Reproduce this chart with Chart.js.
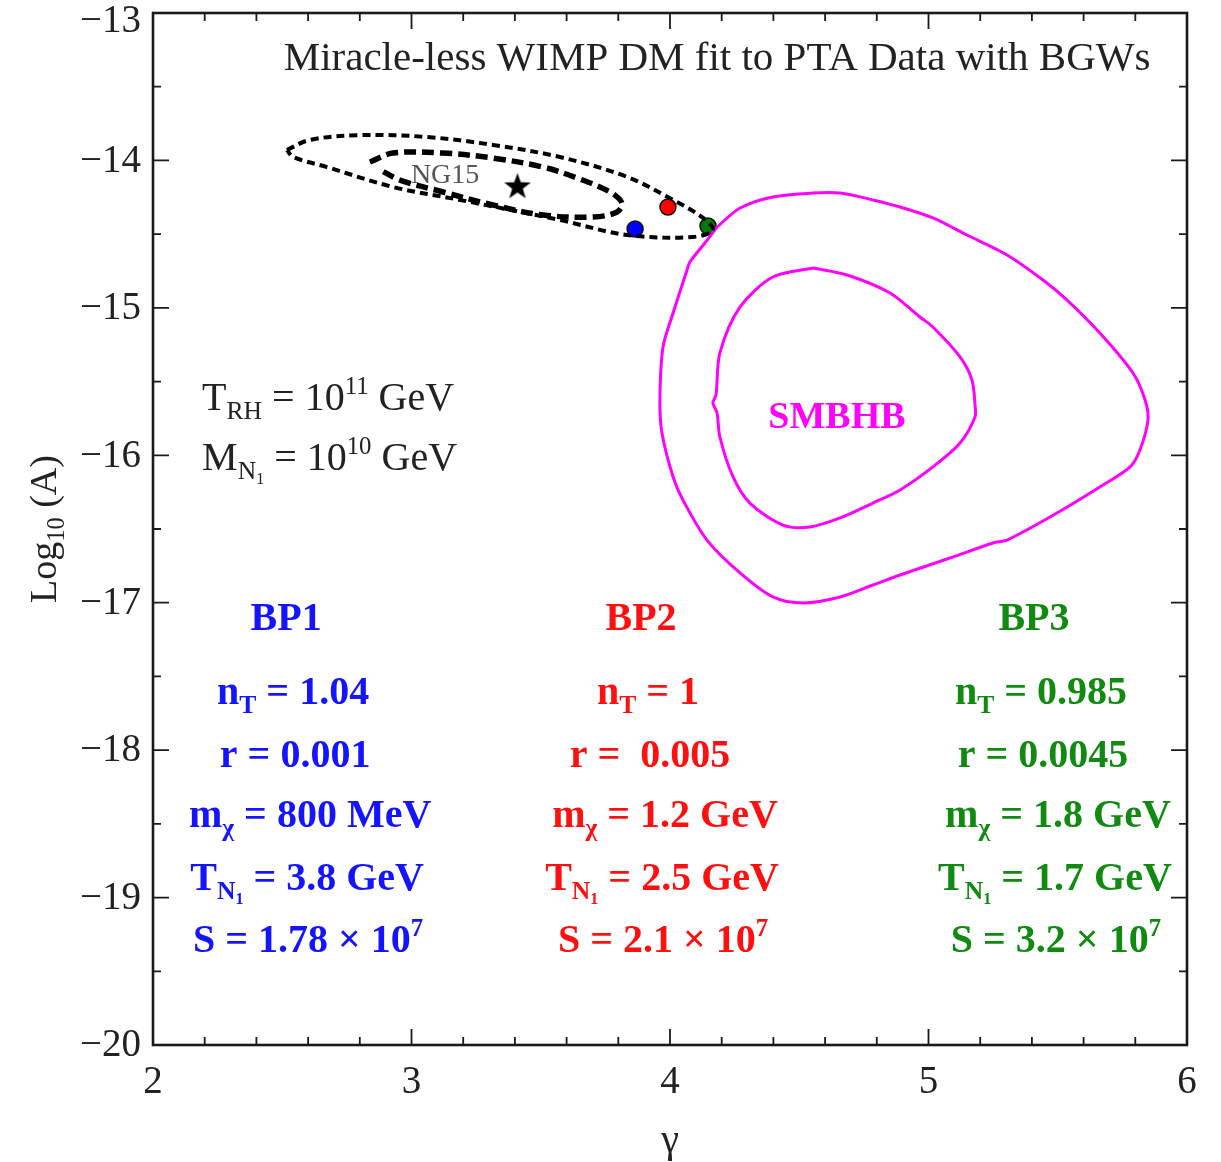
<!DOCTYPE html>
<html>
<head>
<meta charset="utf-8">
<script src="https://cdn.jsdelivr.net/npm/chart.js@4.4.1/dist/chart.umd.min.js"></script>
<style>
  html, body { margin: 0; padding: 0; background: #ffffff; }
  #wrap { width: 1221px; height: 1162px; }
</style>
</head>
<body>
<div id="wrap"><canvas id="c"></canvas></div>
<script>
// ---- axis ranges and tick values ----
const gammaTicks = [2, 3, 4, 5, 6];
const logATicks = [-20, -19, -18, -17, -16, -15, -14, -13];

// ---- NANOGrav 15-yr posterior contours (gamma, log10 A) ----
const ng15Outer = [
  [2.518, -13.929], [2.607, -13.861], [2.801, -13.828], [3.060, -13.841],
  [3.315, -13.895], [3.574, -13.977], [3.834, -14.112], [4.012, -14.268],
  [4.128, -14.390], [4.166, -14.472], [4.089, -14.519], [3.834, -14.506],
  [3.574, -14.404], [3.188, -14.268], [2.928, -14.180], [2.673, -14.045],
  [2.542, -13.977], [2.518, -13.929]
];
const ng15Inner = [
  [2.839, -14.011], [2.928, -13.950], [3.122, -13.950], [3.315, -13.984],
  [3.509, -14.045], [3.640, -14.119], [3.768, -14.214], [3.814, -14.289],
  [3.795, -14.350], [3.702, -14.384], [3.509, -14.370], [3.315, -14.302],
  [3.122, -14.214], [2.955, -14.133], [2.875, -14.060]
];
const ng15Best = [3.41, -14.17];

// ---- SMBHB population contours ----
const smbhbOuter = [
  [4.182, -14.452], [4.271, -14.323], [4.398, -14.248], [4.553, -14.221],
  [4.658, -14.221], [4.785, -14.268], [4.890, -14.316], [5.017, -14.390],
  [5.149, -14.506], [5.304, -14.641], [5.443, -14.811], [5.536, -14.947],
  [5.663, -15.171], [5.791, -15.442], [5.838, -15.625], [5.849, -15.761],
  [5.818, -15.964], [5.780, -16.079], [5.663, -16.215], [5.470, -16.419],
  [5.304, -16.575], [5.250, -16.595], [5.083, -16.697], [4.890, -16.812],
  [4.785, -16.880], [4.658, -16.961], [4.515, -17.002], [4.398, -16.961],
  [4.271, -16.798], [4.143, -16.575], [4.050, -16.303], [4.012, -16.147],
  [3.969, -15.849], [3.961, -15.625], [3.973, -15.265], [4.012, -15.035],
  [4.066, -14.743], [4.077, -14.689], [4.135, -14.560], [4.182, -14.452]
];
const smbhbInner = [
  [4.553, -14.730], [4.685, -14.777], [4.851, -14.899], [4.967, -15.062],
  [5.017, -15.130], [5.122, -15.333], [5.168, -15.489], [5.180, -15.659],
  [5.180, -15.740], [5.122, -15.917], [5.017, -16.079], [4.890, -16.235],
  [4.785, -16.324], [4.658, -16.425], [4.542, -16.486], [4.437, -16.473],
  [4.309, -16.324], [4.244, -16.147], [4.193, -15.876], [4.182, -15.713],
  [4.166, -15.645], [4.178, -15.591], [4.193, -15.306], [4.271, -14.994],
  [4.398, -14.791], [4.553, -14.730]
];

// ---- benchmark points ----
const bpNames = ['BP1', 'BP2', 'BP3'];
const bpGamma = [3.865, 3.992, 4.147];
const bpLogA = [-14.465, -14.316, -14.445];
const bpColors = ['#1414ff', '#ff1010', '#108a10'];
const bpMarker = ['#0000ff', '#ff0000', '#007a00'];
const bpNT = ['1.04', '1', '0.985'];
const bpR = ['0.001', ' 0.005', '0.0045'];
const bpMchi = ['800 MeV', '1.2 GeV', '1.8 GeV'];
const bpTN = ['3.8 GeV', '2.5 GeV', '1.7 GeV'];
const bpS = ['1.78', '2.1', '3.2'];

const FAM = '"Liberation Serif", "Times New Roman", serif';
const INK = '#222222';

const toXY = arr => arr.map(p => ({ x: p[0], y: p[1] }));
const minusFmt = v => (v < 0 ? '\u2212' + Math.abs(v) : String(v));

// filled five-point star used as the best-fit marker
function starImage(size) {
  const cv = document.createElement('canvas');
  cv.width = size; cv.height = size;
  const g = cv.getContext('2d');
  const cx = size / 2, cy = size / 2 + size * 0.05, R = size * 0.5, r = R * 0.4;
  g.beginPath();
  for (let i = 0; i < 10; i++) {
    const rad = i % 2 === 0 ? R : r;
    const a = -Math.PI / 2 + i * Math.PI / 5;
    const px = cx + rad * Math.cos(a), py = cy + rad * Math.sin(a);
    if (i === 0) g.moveTo(px, py); else g.lineTo(px, py);
  }
  g.closePath();
  g.fillStyle = '#000';
  g.fill();
  return cv;
}

// text with sub/superscript runs
function rich(ctx, segs, x, y, size, bold, color, align) {
  const w = bold ? 'bold ' : '';
  const spec = s => {
    if (s.sub) return { f: size * 0.64, dy: size * 0.22 };
    if (s.sup) return { f: size * 0.62, dy: -size * 0.4 };
    if (s.subsub) return { f: size * 0.4, dy: size * 0.36 };
    return { f: size, dy: 0 };
  };
  let total = 0;
  segs.forEach(s => { const p = spec(s); ctx.font = w + p.f + 'px ' + FAM; total += ctx.measureText(s.t).width; });
  let cx = align === 'center' ? x - total / 2 : (align === 'right' ? x - total : x);
  ctx.save();
  ctx.fillStyle = color;
  ctx.textAlign = 'left';
  ctx.textBaseline = 'alphabetic';
  segs.forEach(s => {
    const p = spec(s);
    ctx.font = w + p.f + 'px ' + FAM;
    ctx.fillText(s.t, cx, y + p.dy);
    cx += ctx.measureText(s.t).width;
  });
  ctx.restore();
}

const decor = {
  id: 'decor',
  afterDatasetsDraw(chart) {
    const ctx = chart.ctx, ca = chart.chartArea;
    const xs = chart.scales.x, ys = chart.scales.y;
    const X = v => xs.getPixelForValue(v), Y = v => ys.getPixelForValue(v);

    ctx.save();
    // frame
    ctx.strokeStyle = '#1a1a1a';
    ctx.lineWidth = 2.6;
    ctx.strokeRect(ca.left, ca.top, ca.right - ca.left, ca.bottom - ca.top);

    // inward ticks on all four sides
    ctx.lineWidth = 1.8;
    ctx.beginPath();
    for (let i = 0; i <= 20; i++) {
      const v = 2 + i * 0.2, len = (i % 5 === 0) ? 16 : 8, px = X(v);
      ctx.moveTo(px, ca.bottom); ctx.lineTo(px, ca.bottom - len);
      ctx.moveTo(px, ca.top); ctx.lineTo(px, ca.top + len);
    }
    for (let i = 0; i <= 14; i++) {
      const v = -20 + i * 0.5, len = (i % 2 === 0) ? 16 : 8, py = Y(v);
      ctx.moveTo(ca.left, py); ctx.lineTo(ca.left + len, py);
      ctx.moveTo(ca.right, py); ctx.lineTo(ca.right - len, py);
    }
    ctx.stroke();

    // y tick labels (topmost one kept inside the canvas)
    ctx.font = '39px ' + FAM;
    ctx.fillStyle = INK;
    ctx.textAlign = 'right';
    ctx.textBaseline = 'middle';
    ys.ticks.forEach(t => {
      const py = Math.max(Y(t.value) + 1, 22);
      ctx.fillText(minusFmt(t.value), ca.left - 12, py);
    });
    ctx.restore();

    // title inside the frame
    rich(ctx, [{ t: 'Miracle-less WIMP DM fit to PTA Data with BGWs' }], X(4.182), Y(-13.39), 41, false, INK, 'center');

    // NG15 label
    ctx.save();
    ctx.font = '28px ' + FAM;
    ctx.fillStyle = '#555555';
    ctx.textAlign = 'center';
    ctx.textBaseline = 'middle';
    ctx.fillText('NG15', X(3.13), Y(-14.10));
    // SMBHB label
    ctx.font = 'bold 38px ' + FAM;
    ctx.fillStyle = '#ff00ff';
    ctx.fillText('SMBHB', X(4.646), Y(-15.747));
    ctx.restore();

    // reheating / RHN mass
    rich(ctx, [{ t: 'T' }, { t: 'RH', sub: true }, { t: ' = 10' }, { t: '11', sup: true }, { t: ' GeV' }],
      X(2.19), Y(-15.693), 40, false, INK, 'left');
    rich(ctx, [{ t: 'M' }, { t: 'N', sub: true }, { t: '1', subsub: true }, { t: ' = 10' }, { t: '10', sup: true }, { t: ' GeV' }],
      X(2.19), Y(-16.10), 40, false, INK, 'left');

    // benchmark parameter columns
    const colX = [2.542, 3.915, 5.435];
    const rowY = [-17.185, -17.687, -18.114, -18.521, -18.949, -19.369];
    const rowShift = [-7, 0, 2, 17, 14, 15];
    for (let k = 0; k < 3; k++) {
      const cx = X(colX[k]), c = bpColors[k];
      const rows = [
        [{ t: bpNames[k] }],
        [{ t: 'n' }, { t: 'T', sub: true }, { t: ' = ' + bpNT[k] }],
        [{ t: 'r = ' + bpR[k] }],
        [{ t: 'm' }, { t: 'χ', sub: true }, { t: ' = ' + bpMchi[k] }],
        [{ t: 'T' }, { t: 'N', sub: true }, { t: '1', subsub: true }, { t: ' = ' + bpTN[k] }],
        [{ t: 'S = ' + bpS[k] + ' × 10' }, { t: '7', sup: true }]
      ];
      rows.forEach((segs, j) => rich(ctx, segs, cx + rowShift[j], Y(rowY[j]), 40, true, c, 'center'));
    }

    // axis titles
    rich(ctx, [{ t: 'γ' }], X(4.0), 1152, 40, false, INK, 'center');
    ctx.save();
    ctx.translate(56, (ca.top + ca.bottom) / 2);
    ctx.rotate(-Math.PI / 2);
    rich(ctx, [{ t: 'Log' }, { t: '10', sub: true }, { t: ' (A)' }], 0, 0, 38, false, INK, 'center');
    ctx.restore();
  }
};

// keep the plotting frame fixed regardless of label overhang
const noPad = s => { s.paddingTop = 0; s.paddingBottom = 0; s.paddingLeft = 0; s.paddingRight = 0; };

new Chart(document.getElementById('c'), {
  type: 'scatter',
  data: {
    datasets: [
      {
        data: toXY(ng15Outer), showLine: true, fill: false,
        borderColor: '#000', borderWidth: 4, borderDash: [8, 5],
        tension: 0.35, pointRadius: 0
      },
      {
        data: toXY(ng15Inner), showLine: true, fill: false,
        borderColor: '#000', borderWidth: 5.5, borderDash: [12, 6],
        tension: 0.35, pointRadius: 0
      },
      {
        data: toXY(smbhbOuter), showLine: true, fill: false,
        borderColor: '#ff00ff', borderWidth: 3, tension: 0.3, pointRadius: 0
      },
      {
        data: toXY(smbhbInner), showLine: true, fill: false,
        borderColor: '#ff00ff', borderWidth: 3, tension: 0.3, pointRadius: 0
      },
      {
        data: bpGamma.map((g, i) => ({ x: g, y: bpLogA[i] })),
        pointRadius: 8, pointBackgroundColor: bpMarker,
        pointBorderColor: '#111', pointBorderWidth: 1.5
      },
      {
        data: [{ x: ng15Best[0], y: ng15Best[1] }],
        pointStyle: starImage(28), pointRadius: 14
      }
    ]
  },
  options: {
    responsive: true,
    maintainAspectRatio: false,
    animation: false,
    devicePixelRatio: 1,
    layout: { autoPadding: false, padding: { top: 13, right: 34, left: 0, bottom: 0 } },
    plugins: { legend: { display: false }, tooltip: { enabled: false } },
    scales: {
      x: {
        type: 'linear', min: 2, max: 6,
        afterFit: s => { s.height = 117; noPad(s); },
        afterBuildTicks: s => { s.ticks = gammaTicks.map(v => ({ value: v })); },
        grid: { display: false, drawTicks: false },
        border: { display: false },
        ticks: { color: INK, padding: 14, font: { family: FAM, size: 39 }, callback: minusFmt, maxRotation: 0 }
      },
      y: {
        type: 'linear', min: -20, max: -13,
        afterFit: s => { s.width = 153; noPad(s); },
        afterBuildTicks: s => { s.ticks = logATicks.map(v => ({ value: v })); },
        grid: { display: false, drawTicks: false },
        border: { display: false },
        ticks: { display: false, font: { family: FAM, size: 39 } }
      }
    }
  },
  plugins: [decor]
});
</script>
</body>
</html>
